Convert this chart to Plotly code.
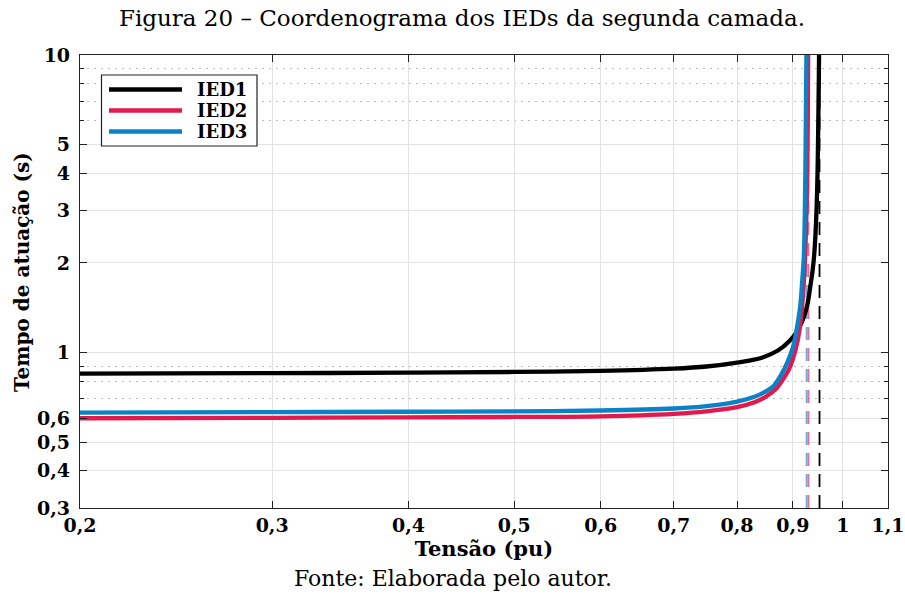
import plotly.graph_objects as go
import math

# ---- data ----
v_ied1 = [0.2, 0.3, 0.4, 0.5, 0.6, 0.7, 0.75, 0.8, 0.84, 0.872, 0.894, 0.909, 0.92, 0.928,
          0.934, 0.9385, 0.942, 0.946, 0.948, 0.949, 0.950, 0.9507, 0.9512]
t_ied1 = [0.849, 0.852, 0.855, 0.860, 0.867, 0.882, 0.897, 0.925, 0.956, 1.015, 1.095, 1.185, 1.3, 1.45,
          1.68, 1.9, 2.2, 3.0, 4.0, 5.1, 6.8, 8.5, 10.5]

v_ied2 = [0.2, 0.3, 0.4, 0.5, 0.6, 0.7, 0.75, 0.8, 0.83, 0.85, 0.87, 0.882, 0.894, 0.905,
          0.913, 0.918, 0.922, 0.925, 0.927, 0.9283, 0.929, 0.9295]
t_ied2 = [0.601, 0.603, 0.605, 0.607, 0.61, 0.622, 0.634, 0.655, 0.68, 0.71, 0.76, 0.815, 0.89, 1.02,
          1.2, 1.45, 1.85, 2.5, 3.4, 5.0, 7.0, 10.5]

v_ied3 = [0.2, 0.3, 0.4, 0.5, 0.6, 0.7, 0.75, 0.8, 0.83, 0.85, 0.865, 0.877, 0.89, 0.9,
          0.907, 0.914, 0.918, 0.921, 0.923, 0.9245, 0.9255, 0.9262]
t_ied3 = [0.628, 0.630, 0.632, 0.634, 0.638, 0.648, 0.66, 0.684, 0.71, 0.74, 0.775, 0.835, 0.93, 1.04,
          1.19, 1.43, 1.75, 2.1, 3.0, 5.0, 8.0, 10.5]

pickup_ied1 = 0.952
pickup_ied2 = 0.930
pickup_ied3 = 0.9265

names = ["IED1", "IED2", "IED3"]
colors = ["#000000", "#E3184C", "#0A82C8"]
dash_colors = ["#000000", "rgba(240,90,130,0.9)", "rgba(90,160,215,0.9)"]

x_ticks = [0.2, 0.3, 0.4, 0.5, 0.6, 0.7, 0.8, 0.9, 1.0, 1.1]
x_ticktext = ["0,2", "0,3", "0,4", "0,5", "0,6", "0,7", "0,8", "0,9", "1", "1,1"]
y_ticks = [0.3, 0.4, 0.5, 0.6, 1, 2, 3, 4, 5, 10]
y_ticktext = ["0,3", "0,4", "0,5", "0,6", "1", "2", "3", "4", "5", "10"]
y_minor = [0.7, 0.8, 0.9, 6, 7, 8, 9]

SERIF = "DejaVu Serif"

# plot-area pixel geometry
L, R, T, B = 80, 888, 55, 508
W, H = R - L, B - T


def px(x):
    return (x - L) / W


def py(y):
    return (B - y) / H


fig = go.Figure()
series = [(v_ied1, t_ied1), (v_ied2, t_ied2), (v_ied3, t_ied3)]
pickups = [pickup_ied1, pickup_ied2, pickup_ied3]

for p, dc in zip(pickups, dash_colors):
    fig.add_trace(go.Scatter(x=[p, p], y=[0.3, 10], mode="lines", showlegend=False,
                             line=dict(color=dc, width=1.8, dash="13px,8px"), hoverinfo="skip"))

for (v, t), n, c in zip(series, names, colors):
    fig.add_trace(go.Scatter(x=v, y=t, mode="lines", name=n, showlegend=False,
                             line=dict(color=c, width=4.3, shape="spline", smoothing=0.9)))

# manual legend (box, sample lines, labels)
shapes = [dict(type="rect", xref="paper", yref="paper",
               x0=px(101.5), x1=px(257), y0=py(146), y1=py(75),
               line=dict(color="#222", width=1.2), fillcolor="white", layer="above")]
annotations = []
rows = [89.5, 110.5, 131.5]
for n, c, yy in zip(names, colors, rows):
    shapes.append(dict(type="line", xref="paper", yref="paper",
                       x0=px(109), x1=px(182), y0=py(yy), y1=py(yy),
                       line=dict(color=c, width=4.5), layer="above"))
    annotations.append(dict(text=n, x=px(195), y=py(yy), xref="paper", yref="paper",
                            showarrow=False, xanchor="left", yanchor="middle",
                            font=dict(family=SERIF, size=18, color="black", weight="bold")))

annotations += [
    dict(text="Figura 20 – Coordenograma dos IEDs da segunda camada.", x=px(462), y=py(18),
         xref="paper", yref="paper", showarrow=False, xanchor="center", yanchor="middle",
         font=dict(family=SERIF, size=23, color="black")),
    dict(text="Fonte: Elaborada pelo autor.", x=px(453), y=py(578),
         xref="paper", yref="paper", showarrow=False, xanchor="center", yanchor="middle",
         font=dict(family=SERIF, size=22, color="black")),
    dict(text="Tempo de atuação (s)", x=px(22), y=py(272), textangle=-90,
         xref="paper", yref="paper", showarrow=False, xanchor="center", yanchor="middle",
         font=dict(family=SERIF, size=20, color="black", weight="bold")),
]

fig.update_layout(
    width=905, height=595,
    margin=dict(l=L, r=905 - R, t=T, b=595 - B),
    paper_bgcolor="white", plot_bgcolor="white",
    font=dict(family=SERIF, color="black"),
    showlegend=False,
    shapes=shapes,
    annotations=annotations,
    xaxis=dict(type="log", range=[math.log10(0.2), math.log10(1.1)], automargin=False,
               tickvals=x_ticks, ticktext=x_ticktext,
               tickfont=dict(family=SERIF, size=19, weight="bold"),
               ticks="inside", ticklen=7, tickcolor="#222", mirror="ticks",
               showline=True, linecolor="#222", linewidth=1.2,
               showgrid=True, gridcolor="#e2e2e2", gridwidth=1, zeroline=False,
               title=dict(text="Tensão (pu)", font=dict(family=SERIF, size=21, weight="bold"),
                          standoff=0)),
    yaxis=dict(type="log", range=[math.log10(0.3), 1], automargin=False,
               tickvals=y_ticks, ticktext=y_ticktext,
               tickfont=dict(family=SERIF, size=19, weight="bold"),
               ticks="inside", ticklen=7, tickcolor="#222", mirror="ticks",
               showline=True, linecolor="#222", linewidth=1.2,
               showgrid=True, gridcolor="#e2e2e2", gridwidth=1, zeroline=False,
               ticklabelstandoff=5,
               minor=dict(tickvals=y_minor, ticks="inside", ticklen=4, tickcolor="#222",
                          showgrid=True, gridcolor="#bbbbbb", griddash="1.5px,5.5px", gridwidth=1.3)),
)

fig.write_html("out.html")
